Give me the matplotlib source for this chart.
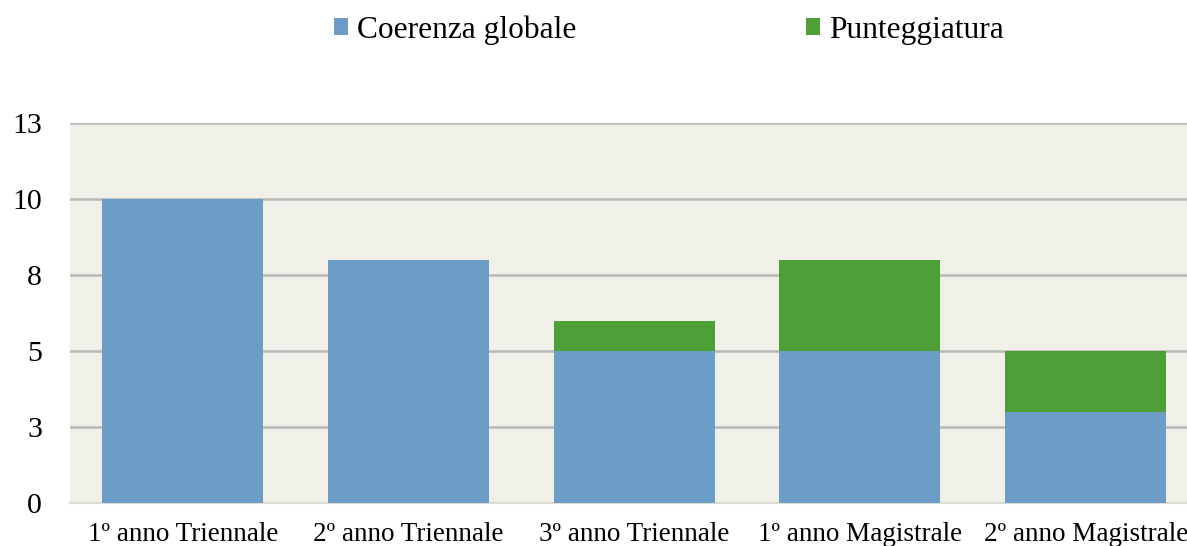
"""
plot.py - stacked bars: Coerenza globale / Punteggiatura per anno di corso
"""

import matplotlib
matplotlib.use("Agg")
from matplotlib import pyplot as plt
from matplotlib.patches import Patch

plt.rcParams['font.family'] = ['Liberation Serif', 'DejaVu Serif']

categories = [
    "1º anno Triennale",
    "2º anno Triennale",
    "3º anno Triennale",
    "1º anno Magistrale",
    "2º anno Magistrale",
]
coerenza = [10, 8, 5, 5, 3]
punteggiatura = [0, 0, 1, 3, 2]
ytick_values = [0, 2.5, 5, 7.5, 10, 12.5]
ytick_labels = ["0", "3", "5", "8", "10", "13"]

blue = "#6c9dc6"
green = "#4f9f38"
bg = "#f0efe8"


def main():
    fig = plt.figure(figsize=(11.87, 5.46), dpi=100)
    ax = fig.add_axes([70 / 1187, 43 / 546, 1128.5 / 1187, 380 / 546])
    ax.set_facecolor(bg)

    x = range(len(categories))
    ax.bar(x, coerenza, width=0.713, color=blue, zorder=3)
    ax.bar(x, punteggiatura, width=0.713, bottom=coerenza, color=green,
           zorder=3)

    ax.set_xlim(-0.5, len(categories) - 0.5)
    ax.set_ylim(0, 12.5)
    ax.set_yticks(ytick_values)
    ax.set_yticklabels(ytick_labels)
    ax.set_xticks(list(x))
    ax.set_xticklabels(categories)

    ax.yaxis.grid(True, color="#b8b8b8", lw=1.8, zorder=1)
    ax.set_axisbelow(True)
    for side in ('top', 'right', 'left'):
        ax.spines[side].set_visible(False)
    ax.spines['bottom'].set_color("#dcdcd4")
    ax.spines['bottom'].set_linewidth(1.6)
    ax.tick_params(axis='y', length=0, pad=20, labelsize=21.5)
    ax.tick_params(axis='x', length=0, pad=14, labelsize=19.5)

    handles = [Patch(facecolor=blue, label="Coerenza globale"),
               Patch(facecolor=green, label="Punteggiatura")]
    fig.legend(handles=handles, loc='center', ncol=2,
               bbox_to_anchor=(669 / 1187, 1 - 30 / 546), frameon=False,
               fontsize=22.6, handlelength=0.45, handleheight=0.45,
               handletextpad=0.3, columnspacing=7.3)

    fig.savefig("out.png", dpi=100)


if __name__ == "__main__":
    main()
